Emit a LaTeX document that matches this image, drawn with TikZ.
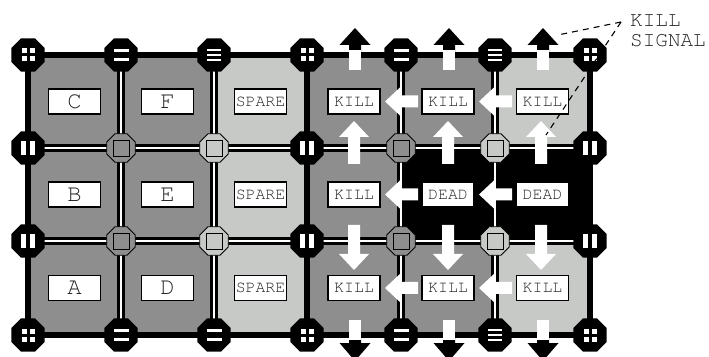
\documentclass[tikz,border=0pt]{standalone}
\usepackage[T1,TU]{fontenc}
\usetikzlibrary{shapes.geometric}

\definecolor{cellmid}{HTML}{8E8E8E}
\definecolor{celllite}{HTML}{C6C9C6}
\newcommand\typefont{\fontencoding{T1}\fontfamily{pcr}\selectfont}

\begin{document}
\begin{tikzpicture}[
    x=1pt, y=1pt,
    celltag/.style={draw, fill=white, line width=1.1pt, minimum width=52pt,
        minimum height=25pt, inner sep=0pt, text=black!85,
        font=\typefont\fontsize{16.5}{16.5}\selectfont},
    bigtag/.style={celltag, font=\typefont\fontsize{24}{24}\selectfont},
    railline/.style={draw, line width=6pt},
    seamline/.style={double=white, line width=2.2pt, double distance=2.8pt},
    jbolt/.style={regular polygon, regular polygon sides=8, minimum size=36pt,
        fill=black, inner sep=0pt},
    jhub/.style={regular polygon, regular polygon sides=8, minimum size=31pt,
        draw, line width=0.8pt, fill=#1, inner sep=0pt},
    leaderline/.style={dash pattern=on 6pt off 5pt, line width=1.1pt},
    signaltext/.style={anchor=north west, inner sep=0pt, text=black!85,
        align=left, font=\typefont\fontsize{21}{19.5}\selectfont},
    flow/.pic={\fill[white] (0,0) -- (-16,15) -- (-16,6) -- (-#1,6)
        -- (-#1,-6) -- (-16,-6) -- (-16,-15) -- cycle;},
    quad/.pic={\foreach \sx in {-1,1} \foreach \sy in {-1,1}
        \fill[white] ({\sx*4-2.5},{\sy*4-2.5}) rectangle +(5,5);},
    twin/.pic={\foreach \sy in {-4.5,4.5}
        \fill[white] (-7.5,{\sy-1.75}) rectangle +(15,3.5);},
    trio/.pic={\foreach \sy in {-5,0,5}
        \fill[white] (-7,{\sy-1.25}) rectangle +(14,2.5);},
    posts/.pic={\foreach \sx in {-4.5,4.5}
        \fill[white] ({\sx-2.25},-7) rectangle +(4.5,14);},
]
\useasboundingbox (0,0) rectangle (709,356);
\clip (0,0) rectangle (709,356);

% grid corners and cell centres
\foreach \x [count=\i from 0] in {28,121,214,307,401,495,590}
    \foreach \y [count=\j from 0] in {301,208,115,21}
        \coordinate (g-\i-\j) at (\x,\y);
\foreach \x [count=\c] in {74.5,167.5,260.5,354,448,542.5}
    \foreach \y [count=\r] in {254.5,161.5,68}
        \coordinate (m-\c-\r) at (\x,\y);

% cells
\fill[cellmid] (g-0-0) rectangle (g-2-3);
\fill[celllite] (g-2-0) rectangle (g-3-3);
\fill[cellmid] (g-3-0) rectangle (g-5-3);
\fill[celllite] (g-5-0) rectangle (g-6-3);
\fill[black] (g-4-1) rectangle (g-6-2);

% wiring
\draw[seamline] (g-0-1) -- (g-6-1) (g-0-2) -- (g-6-2);
\foreach \i in {1,2,4,5}
    \draw[seamline] (g-\i-0) -- (g-\i-3);
\draw[railline] (g-3-0) -- (g-3-3);
\draw[railline] (g-0-0) rectangle (g-6-3);

% kill signals inside the array
\foreach \y in {254.5,161.5,68}
    \foreach \x in {385,479}
        \pic[rotate=180] at (\x,\y) {flow=33};
\foreach \x in {354,448,541} {
    \pic[rotate=90] at (\x,235) {flow=43};
    \pic[rotate=-90] at (\x,86) {flow=45};
}

% junctions
\foreach \i/\j in {0/0,1/0,2/0,3/0,4/0,5/0,6/0,0/3,1/3,2/3,3/3,4/3,5/3,6/3,
                   0/1,0/2,3/1,3/2,6/1,6/2}
    \node[jbolt] (j-\i-\j) at (g-\i-\j) {};
\foreach \i/\j in {0/0,3/0,6/0,0/3,3/3,6/3}
    \pic at (j-\i-\j) {quad};
\foreach \i/\j in {1/0,4/0,1/3,2/3,4/3}
    \pic at (j-\i-\j) {twin};
\foreach \i/\j in {2/0,5/0,5/3}
    \pic at (j-\i-\j) {trio};
\foreach \i/\j in {0/1,0/2,3/1,3/2,6/1,6/2}
    \pic at (j-\i-\j) {posts};
\foreach \i/\col in {1/cellmid,2/celllite,4/cellmid,5/celllite}
    \foreach \j in {1,2} {
        \node[jhub=\col] (h-\i-\j) at (g-\i-\j) {};
        \draw[line width=0.9pt] ([shift={(-8,-8)}]h-\i-\j.center) rectangle +(16,16);
    }

% cell labels
\foreach \c/\r/\txt in {1/1/C,1/2/B,1/3/A,2/1/F,2/2/E,2/3/D}
    \node[bigtag] (t-\c-\r) at (m-\c-\r) {\txt};
\foreach \c/\r/\txt in {3/1/SPARE,3/2/SPARE,3/3/SPARE,4/1/KILL,4/2/KILL,4/3/KILL,
                        5/1/KILL,5/2/DEAD,5/3/KILL,6/1/KILL,6/2/DEAD,6/3/KILL}
    \node[celltag] (t-\c-\r) at (m-\c-\r) {\txt};

% signals leaving the array
\foreach \x in {355,449,543} {
    \fill (\x-6,301) -- (\x-6,311) -- (\x-15.5,311) -- (\x,328)
        -- (\x+15.5,311) -- (\x+6,311) -- (\x+6,301) -- cycle;
    \fill[white] (\x-6,286) rectangle (\x+6,306);
    \fill (\x-6,21) -- (\x-6,13) -- (\x-15.5,13) -- (\x,-5)
        -- (\x+15.5,13) -- (\x+6,13) -- (\x+6,21) -- cycle;
    \fill[white] (\x-6,16) rectangle (\x+6,36);
}

% callout
\node[signaltext] (sig-text) at (630,341) {KILL\\SIGNAL};
\coordinate (sig) at (621,334);
\coordinate (head-out) at (558,321);
\coordinate (head-in) at (546,221);
\draw[leaderline] (sig) -- (head-out);
\draw[leaderline] (sig) -- (head-in);
\end{tikzpicture}
\end{document}
